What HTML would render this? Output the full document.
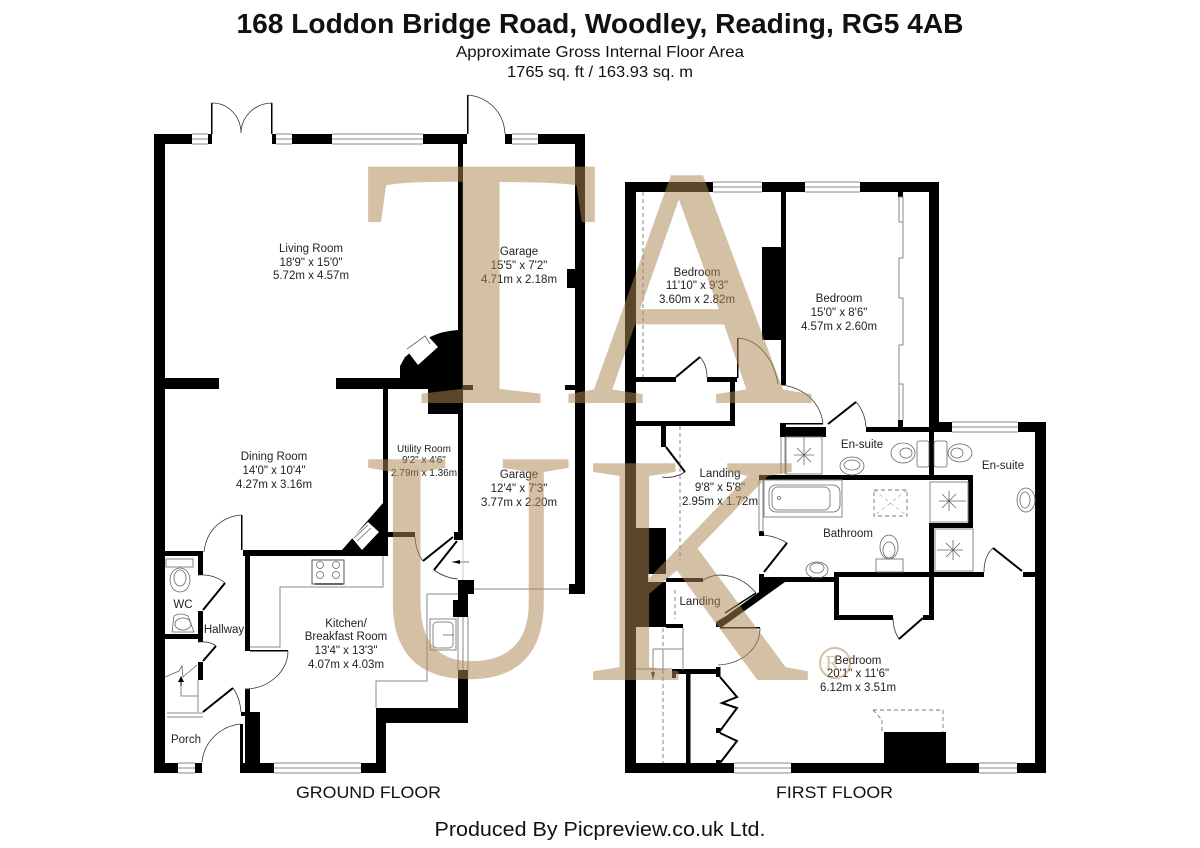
<!DOCTYPE html>
<html><head><meta charset="utf-8"><style>
html,body{margin:0;padding:0;background:#fff}
svg{display:block}
.t{font:11.5px "Liberation Sans",sans-serif;text-anchor:middle;fill:#222}
.h{font-family:"Liberation Sans",sans-serif;text-anchor:middle;fill:#111}
.w{font-family:"Liberation Serif",serif;fill:#ad8953;fill-opacity:.52}
.g{fill:none;stroke:#8a8a8a;stroke-width:1}
.a{fill:none;stroke:#333;stroke-width:.8}
.d{fill:none;stroke:#000;stroke-width:2}
.f{fill:none;stroke:#666;stroke-width:.8}
.s{fill:none;stroke:#777;stroke-width:.9;stroke-dasharray:4 3}
</style></head><body>
<svg width="1200" height="848" viewBox="0 0 1200 848" xmlns="http://www.w3.org/2000/svg">
<rect width="1200" height="848" fill="#fff"/>

<text class="h" x="600" y="33" font-size="28" font-weight="700" textLength="727" lengthAdjust="spacingAndGlyphs">168 Loddon Bridge Road, Woodley, Reading, RG5 4AB</text>
<text class="h" x="600" y="57" font-size="16" textLength="288" lengthAdjust="spacingAndGlyphs">Approximate Gross Internal Floor Area</text>
<text class="h" x="600" y="77" font-size="16" textLength="186" lengthAdjust="spacingAndGlyphs">1765 sq. ft / 163.93 sq. m</text>
<text class="h" x="368.500" y="798" font-size="16.500" textLength="145" lengthAdjust="spacingAndGlyphs">GROUND FLOOR</text>
<text class="h" x="834.500" y="798" font-size="16.500" textLength="117" lengthAdjust="spacingAndGlyphs">FIRST FLOOR</text>
<text class="h" x="600" y="836" font-size="20" textLength="331" lengthAdjust="spacingAndGlyphs">Produced By Picpreview.co.uk Ltd.</text>

<!-- ground floor walls -->
<g fill="#000">
<rect x="154" y="134" width="11" height="639"/>
<rect x="154" y="134" width="38" height="10"/>
<rect x="208" y="134" width="4" height="10"/>
<rect x="272" y="134" width="4" height="10"/>
<rect x="292" y="134" width="40" height="10"/>
<rect x="423" y="134" width="44" height="10"/>
<rect x="458" y="134" width="5" height="406"/>
<rect x="211" y="103" width="1.500" height="31"/>
<rect x="271" y="103" width="1.500" height="31"/>
<rect x="467" y="95" width="1.500" height="39"/>
<rect x="505" y="134" width="7" height="10"/>
<rect x="538" y="134" width="47" height="10"/>
<rect x="575" y="134" width="10" height="460"/>
<rect x="567" y="269" width="8" height="19"/>
<rect x="565" y="385" width="10" height="5"/>
<rect x="463" y="385" width="10" height="5"/>
<rect x="569" y="584" width="6" height="10"/>
<rect x="165" y="378" width="54" height="11"/>
<rect x="336" y="378" width="122" height="11"/>
<path d="M400 378V366L405 357L430 337Q442 331 458 330V389H400Z"/>
<rect x="428" y="389" width="30" height="25"/>
<rect x="383" y="389" width="5" height="167"/>
<polygon points="383,503 388,503 388,556 342,556 342,550"/>
<rect x="243" y="550" width="145" height="6"/>
<rect x="241" y="515" width="1.500" height="35"/>
<rect x="165" y="551" width="38" height="5"/>
<rect x="198" y="551" width="5" height="24"/>
<rect x="198" y="611" width="5" height="31"/>
<rect x="165" y="634" width="38" height="5"/>
<rect x="198" y="662" width="5" height="18"/>
<rect x="245" y="556" width="5" height="95"/>
<rect x="250" y="650" width="38" height="1.500"/>
<rect x="245" y="689" width="5" height="24"/>
<rect x="245" y="712" width="15" height="51"/>
<rect x="240" y="724" width="3" height="39"/>
<rect x="241" y="712" width="4" height="4"/>
<rect x="154" y="763" width="24" height="10"/>
<rect x="195" y="763" width="7" height="10"/>
<rect x="240" y="763" width="34" height="10"/>
<rect x="361" y="763" width="25" height="10"/>
<rect x="376" y="708" width="10" height="65"/>
<rect x="376" y="708" width="92" height="15"/>
<rect x="458" y="670" width="10" height="53"/>
<rect x="458" y="580" width="5" height="20"/>
<rect x="458" y="580" width="16" height="14"/>
<rect x="453" y="600" width="15" height="17"/>
<rect x="458" y="594" width="10" height="23"/>
<rect x="388" y="532" width="27" height="5"/>
<rect x="454" y="532" width="9" height="8"/>
</g>
<!-- ground windows -->
<g class="g">
<path d="M192 134H208M192 139H208M192 144H208M276 134H292M276 139H292M276 144H292M332 134H423M332 139H423M332 144H423M512 134H538M512 139H538M512 144H538"/>
<path d="M178 763H195M178 768H195M178 773H195M274 763H361M274 768H361M274 773H361"/>
<path d="M167 713H203M167 717H203"/>
<path d="M458 617V670M463 617V670M468 617V670"/>
</g>
<!-- fireplace inserts -->
<polygon points="405,348 427,335 438,347 418,365" fill="#fff"/>
<path class="f" d="M407 349L425 336L430 344"/>
<polygon points="368,522 379,532 362,550 352,538" fill="#fff"/>
<path class="f" d="M354 538L368 525M357 541L371 528"/>
<!-- ground door arcs/leaves -->
<g class="a">
<path d="M212 103C229 103 241 117 241 133M272 103C255 103 241 117 241 133"/>
<path d="M468 95C488 97 504 112 505 134"/>
<path d="M241 515C220 517 206 532 204 552"/>
<path d="M198 575Q214 574 225 583"/>
<path d="M198 642Q210 641 216 646"/>
<path d="M233 688Q240 698 241 712"/>
<path d="M241 724C220 726 204 742 202 762"/>
<path d="M288 651C288 672 268 689 245 689"/>
<path d="M415 537Q416 552 423 561"/>
<path d="M434 570Q445 578 458 579"/>
</g>
<g class="d">
<path d="M225 583L203 610M216 646L203 661M233 688L203 712M423 561L453 537M434 570L457 541"/>
</g>
<!-- kitchen units -->
<g class="g">
<path d="M250 647H280V587H383V556"/>
<path d="M427 594V681H376V708"/>
<path d="M427 594H458"/>
<path d="M198 680V712"/>
<rect x="312" y="560" width="32" height="24" stroke="#555"/>
<rect x="430" y="619" width="26" height="31"/>
<rect x="433" y="622" width="20" height="26" rx="4"/>
</g>
<g class="f">
<circle cx="320" cy="565" r="3.500"/><circle cx="336" cy="565" r="3.500"/>
<circle cx="320" cy="575" r="3.500"/><circle cx="336" cy="575" r="3.500"/>
<path d="M315 584H343" stroke-width="2"/>
<path d="M443 635H454"/>
<path d="M165 677L179 671L182 666L183 677L197 665M181 686V696H197"/>
<rect x="166" y="559" width="27" height="8"/>
<ellipse cx="180" cy="580" rx="10" ry="12"/><ellipse cx="180" cy="578" rx="6" ry="8"/>
<path d="M174 616Q180 612 188 616L194 632H172Z"/>
<ellipse cx="183" cy="624" rx="8" ry="6"/>
</g>
<path d="M181 686V680" stroke="#000" stroke-width="1"/><polygon points="181,676 178,682 184,682" fill="#000"/>
<path d="M452 562H469" stroke="#555" stroke-width=".8"/><polygon points="452,562 460,560 460,564" fill="#000"/>
<path d="M474 589H569" stroke="#888" stroke-width="1"/>
<path d="M463 540V580" stroke="#bbb" stroke-width=".8"/>

<!-- first floor walls -->
<g fill="#000">
<rect x="625" y="182" width="11" height="591"/>
<rect x="625" y="182" width="88" height="10"/>
<rect x="762" y="182" width="43" height="10"/>
<rect x="860" y="182" width="79" height="10"/>
<rect x="929" y="182" width="10" height="240"/>
<rect x="929" y="422" width="23" height="10"/>
<rect x="1018" y="422" width="28" height="10"/>
<rect x="1035" y="422" width="11" height="351"/>
<rect x="625" y="763" width="109" height="10"/>
<rect x="791" y="763" width="188" height="10"/>
<rect x="1017" y="763" width="29" height="10"/>
<rect x="781" y="192" width="5" height="193"/>
<rect x="762" y="247" width="24" height="93"/>
<rect x="636" y="377" width="40" height="5"/>
<rect x="707" y="377" width="30" height="5"/>
<rect x="737" y="338" width="1.500" height="40"/>
<rect x="730" y="377" width="5" height="49"/>
<rect x="636" y="421" width="99" height="5"/>
<rect x="661" y="425" width="5" height="22"/>
<rect x="780" y="423" width="6" height="14"/>
<rect x="786" y="427" width="40" height="10"/>
<rect x="786" y="423" width="37" height="1.500"/>
<rect x="866" y="427" width="63" height="5"/>
<rect x="898" y="192" width="5" height="5"/>
<rect x="898" y="420" width="5" height="8"/>
<rect x="929" y="432" width="5" height="43"/>
<rect x="929" y="523" width="5" height="97"/>
<rect x="759" y="475" width="214" height="5"/>
<rect x="968" y="475" width="5" height="53"/>
<rect x="929" y="523" width="44" height="5"/>
<rect x="759" y="531" width="5" height="5"/>
<rect x="834" y="572" width="150" height="5"/>
<rect x="1023" y="572" width="12" height="5"/>
<rect x="834" y="572" width="5" height="48"/>
<rect x="834" y="615" width="59" height="5"/>
<rect x="923" y="615" width="11" height="5"/>
<polygon points="759,574 764,574 764,577 834,577 834,582 785,582 722,627 716,627 716,622 726,616 759,592"/>
<rect x="636" y="528" width="30" height="46"/>
<rect x="636" y="582" width="30" height="45"/>
<rect x="636" y="574" width="12" height="8"/>
<rect x="666" y="578" width="37" height="4"/>
<rect x="666" y="624" width="17" height="4"/>
<rect x="672" y="669" width="48" height="5"/>
<rect x="672" y="669" width="4" height="9"/>
<rect x="686" y="674" width="4.500" height="90"/>
<rect x="716" y="667" width="4.500" height="10"/>
<rect x="716" y="728" width="4.500" height="5"/>
<rect x="716" y="760" width="4.500" height="4"/>
<rect x="720" y="627" width="40" height="1.500"/>
<rect x="884" y="732" width="62" height="31"/>
</g>
<!-- first windows -->
<g class="g">
<path d="M713 182H762M713 187H762M713 192H762M805 182H860M805 187H860M805 192H860"/>
<path d="M952 422H1018M952 427H1018M952 432H1018"/>
<path d="M734 763H791M734 768H791M734 773H791M979 763H1017M979 768H1017M979 773H1017"/>
<path d="M759 480V532M763 480V532"/>
<path d="M781 437V474M785 437V474"/>
<path d="M899 197H903V222M899 197V222H903V258H899V298H903V345H899V384H903V420M899 384V420"/>
</g>
<!-- first arcs/leaves -->
<g class="a">
<path d="M700 357Q707 365 707 377"/>
<path d="M738 338C760 340 774 360 778 384"/>
<path d="M782 385C804 388 820 402 823 423"/>
<path d="M856 402Q865 412 866 427"/>
<path d="M685 472Q674 479 662 477"/>
<path d="M984 572Q984 556 993 548"/>
<path d="M764 535Q778 537 787 543"/>
<path d="M703 580C720 570 742 576 756 593"/>
<path d="M760 628C760 650 740 664 718 665"/>
<path d="M893 618Q893 630 899 639"/>
</g>
<g class="d">
<path d="M676 377L700 357M828 424L856 402M666 447L685 472M993 548L1022 571M787 543L764 572M899 639L923 618"/>
<path d="M756 593L725 613" stroke-width="1.500"/>
<path d="M720 677L737 697L722 703L737 708L720 731M720 733L737 741L720 763"/>
</g>
<!-- dashed -->
<g class="s">
<path d="M643 192V377M680 426V560M675 590V619M663 628V763M873 710H943V732M882 720V732"/>
<path d="M873 710L882 720"/>
<rect x="874" y="490" width="33" height="26"/>
<path d="M874 490L907 516M907 490L874 516" stroke-width=".5"/>
</g>
<!-- sanitary -->
<g class="g">
<rect x="786" y="437" width="36" height="37"/>
<rect x="930" y="482" width="38" height="40"/>
<rect x="935" y="529" width="38" height="42"/>
<rect x="764" y="480" width="78" height="37"/>
<path d="M653 649H683V670M653 649V680M636 669H672M683 628V650M663 649V669"/>
</g>
<g class="f">
<rect x="769" y="485" width="71" height="27" rx="7"/>
<rect x="772" y="487" width="58" height="23" rx="6"/>
<circle cx="779" cy="498" r="1.500"/>
<path d="M804 445L804 465M794 455H814M797 448L811 462M811 448L797 462M804 437V445"/>
<path d="M949 491V511M939 501H959M942 494L956 508M956 494L942 508M959 501H966"/>
<path d="M953 540V560M943 550H963M946 543L960 557M960 543L946 557M937 550H943"/>
<ellipse cx="852" cy="466" rx="12" ry="9"/><ellipse cx="852" cy="465" rx="8" ry="5"/>
<ellipse cx="903" cy="453" rx="12" ry="10"/><ellipse cx="906" cy="453" rx="6" ry="5"/>
<rect x="917" y="441" width="12" height="26" rx="2"/>
<rect x="934" y="441" width="13" height="26" rx="2"/>
<ellipse cx="960" cy="453" rx="12" ry="9"/><ellipse cx="957" cy="453" rx="6" ry="5"/>
<ellipse cx="1026" cy="500" rx="9" ry="12"/><ellipse cx="1025" cy="500" rx="5" ry="8"/>
<ellipse cx="817" cy="570" rx="11" ry="8"/><ellipse cx="817" cy="568" rx="7" ry="5"/>
<ellipse cx="889" cy="547" rx="9" ry="12"/><ellipse cx="889" cy="550" rx="6" ry="8"/>
<rect x="876" y="559" width="27" height="13"/>
</g>
<polygon points="653,680 651,672 655,672" fill="#333"/>

<!-- labels -->
<g class="t">
<text x="311" y="252">Living Room</text><text x="311" y="266">18'9" x 15'0"</text><text x="311" y="279">5.72m x 4.57m</text>
<text x="274" y="460">Dining Room</text><text x="274" y="474">14'0" x 10'4"</text><text x="274" y="488">4.27m x 3.16m</text>
<text x="519" y="255">Garage</text><text x="519" y="269">15'5" x 7'2"</text><text x="519" y="283">4.71m x 2.18m</text>
<text x="424" y="452" style="font-size:10px">Utility Room</text><text x="424" y="463" style="font-size:10px">9'2" x 4'6"</text><text x="424" y="476" style="font-size:10px">2.79m x 1.36m</text>
<text x="519" y="478">Garage</text><text x="519" y="492">12'4" x 7'3"</text><text x="519" y="506">3.77m x 2.20m</text>
<text x="346" y="627">Kitchen/</text><text x="346" y="640">Breakfast Room</text><text x="346" y="654">13'4" x 13'3"</text><text x="346" y="668">4.07m x 4.03m</text>
<text x="183" y="608">WC</text><text x="224" y="633">Hallway</text><text x="186" y="743">Porch</text>
<text x="697" y="276">Bedroom</text><text x="697" y="289">11'10" x 9'3"</text><text x="697" y="303">3.60m x 2.82m</text>
<text x="839" y="302">Bedroom</text><text x="839" y="316">15'0" x 8'6"</text><text x="839" y="330">4.57m x 2.60m</text>
<text x="862" y="448">En-suite</text><text x="1003" y="469">En-suite</text>
<text x="720" y="477">Landing</text><text x="720" y="491">9'8" x 5'8"</text><text x="720" y="505">2.95m x 1.72m</text>
<text x="848" y="537">Bathroom</text><text x="700" y="605">Landing</text>
<text x="858" y="664">Bedroom</text><text x="858" y="677">20'1" x 11'6"</text><text x="858" y="691">6.12m x 3.51m</text>
</g>

<!-- watermark -->
<text class="w" font-size="361" transform="translate(361,403) scale(1.09,1)">T</text>
<text class="w" font-size="345" transform="translate(565,403) scale(1,1)">A</text>
<text class="w" font-size="331" transform="translate(362,676) scale(.89,1)">U</text>
<text class="w" font-size="331" transform="translate(584,680) scale(.95,1)">K</text>
<circle cx="835" cy="663" r="15" fill="none" stroke="#ad8953" stroke-opacity=".52" stroke-width="2"/>
<text class="w" x="832" y="669" font-size="20" text-anchor="middle">R</text>
</svg>
</body></html>
